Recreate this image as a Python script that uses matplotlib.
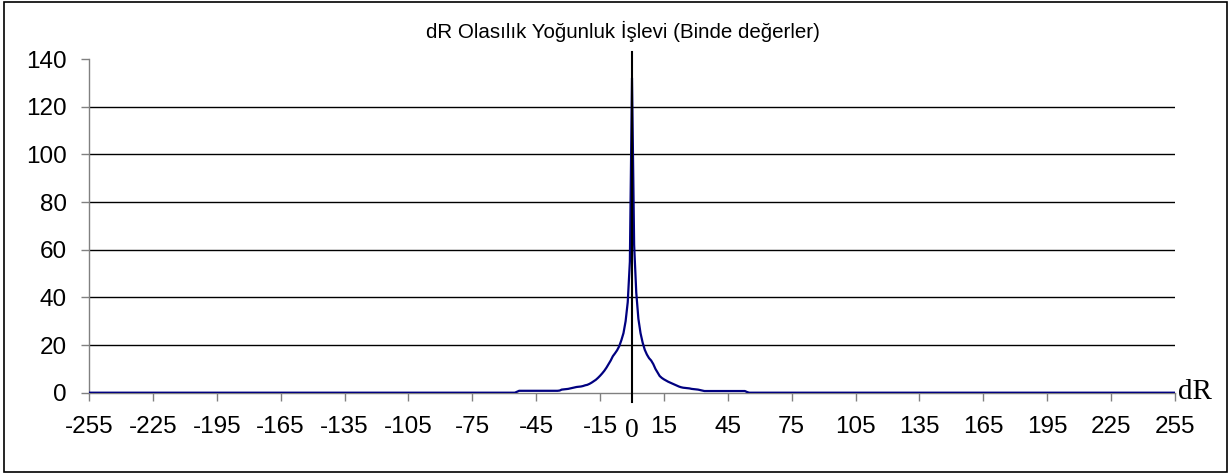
import numpy as np
import matplotlib.pyplot as plt
from matplotlib.patches import Rectangle

# dR range of the category axis
dr_min, dr_max = -255, 255

# per-mille values, dR = -55 ... -1
pdf_left = [0.0, 0.4] + [0.8] * 19 + [
    0.9, 1.3, 1.4, 1.5, 1.6, 1.8, 2.0, 2.2, 2.4, 2.5,
    2.6, 2.8, 3.1, 3.3, 3.7, 4.2, 4.8, 5.4, 6.2, 7.1,
    8.1, 9.2, 10.5, 12.0, 13.5, 15.3, 16.5, 17.8, 19.5, 22.0,
    25.0, 30.0, 38.0, 55.0]
# value at dR = 0
pdf_peak = 132.0
# dR = 1 ... 55
pdf_right = [
    62.0, 42.0, 31.0, 25.0, 21.0, 18.0, 16.0, 14.5, 13.5, 12.0,
    10.0, 8.5, 7.0, 6.2, 5.6, 5.1, 4.6, 4.2, 3.8, 3.4,
    3.0, 2.6, 2.3, 2.1, 2.0, 1.9, 1.8, 1.6, 1.5, 1.4,
    1.3, 1.1, 0.9] + [0.7] * 20 + [0.3, 0.0]

tick_values = list(range(-255, 256, 30))
tick_labels = [str(v) for v in tick_values]
grid_levels = [20, 40, 60, 80, 100, 120]
y_ticks = [0, 20, 40, 60, 80, 100, 120, 140]

title = "dR Olasılık Yoğunluk İşlevi (Binde değerler)"

# full series: zero everywhere outside the central part
dr = np.arange(dr_min, dr_max + 1)
pdf = np.zeros(len(dr))
core = np.array(pdf_left + [pdf_peak] + pdf_right)
start = -len(pdf_left) - dr_min
pdf[start:start + len(core)] = core

plt.rcParams['font.family'] = ['Liberation Sans', 'DejaVu Sans']

fig = plt.figure(figsize=(12.29, 4.75), dpi=100)
ax = fig.add_axes([89 / 1229, 82.3 / 475, 1086 / 1229, 333.7 / 475])

ax.hlines(grid_levels, dr_min, dr_max, color='black', lw=1.0, zorder=1)
ax.plot(dr, pdf, color='#000080', lw=1.6, zorder=3)

# the vertical dR = 0 line, a bit taller than the plot
ax.plot([0, 0], [-4, 143], color='black', lw=1.5, clip_on=False, zorder=4)

ax.set_xlim(dr_min, dr_max)
ax.set_ylim(0, 140)
ax.set_xticks(tick_values)
ax.set_xticklabels(tick_labels)
ax.set_yticks(y_ticks)

for side in ('top', 'right'):
    ax.spines[side].set_visible(False)
for side in ('left', 'bottom'):
    ax.spines[side].set_color('#808080')
    ax.spines[side].set_linewidth(1.0)

ax.tick_params(axis='both', colors='#808080', labelcolor='black',
               length=6, width=1.0, labelsize=17.5)
ax.tick_params(axis='y', pad=10)
ax.tick_params(axis='x', pad=11)

serif = ['Liberation Serif', 'DejaVu Serif']
ax.text(0, -16, '0', family=serif, fontsize=20, ha='center', va='center')
ax.text(256.5, 0.5, 'dR', family=serif, fontsize=21, ha='left', va='center',
        clip_on=False)

fig.text(623 / 1229, 1 - 31 / 475, title, fontsize=14.8,
         ha='center', va='center')

fig.patches.append(Rectangle((4 / 1229, 3 / 475), 1223 / 1229, 470 / 475,
                             transform=fig.transFigure, fill=False,
                             ec='black', lw=1.2))

fig.savefig('out.png', dpi=100)
